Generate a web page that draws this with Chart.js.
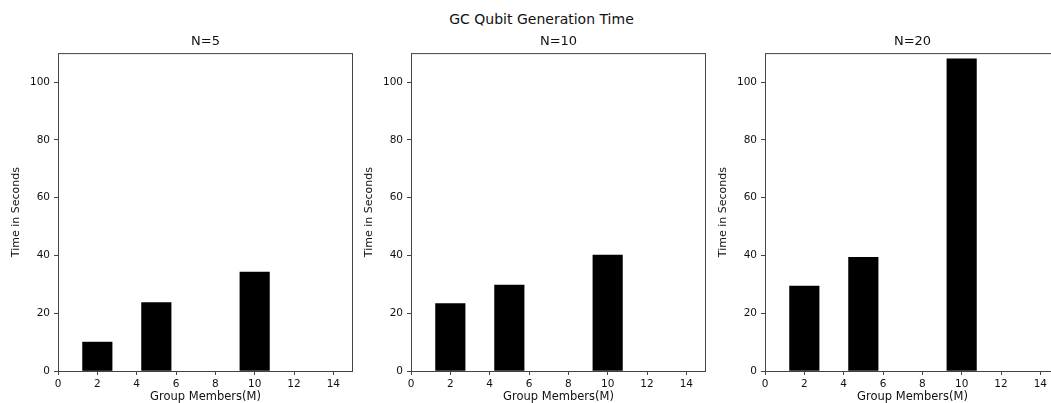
<!DOCTYPE html>
<html>
<head>
<meta charset="utf-8">
<script src="https://cdn.jsdelivr.net/npm/chart.js@4.4.1/dist/chart.umd.min.js"></script>
<style>
  html, body { margin:0; padding:0; width:1051px; height:403px; overflow:hidden; background:#fff; }
  #sup { position:absolute; left:0; top:11px; width:1083px; text-align:center;
         font-family:"DejaVu Sans"; font-size:14px; line-height:16px; color:#111; }
  .pane { position:absolute; top:0; width:359px; height:403px; }
</style>
</head>
<body>
<div id="sup">GC Qubit Generation Time</div>
<div class="pane" style="left:0px"><canvas id="c0" width="359" height="403"></canvas></div>
<div class="pane" style="left:353px"><canvas id="c1" width="359" height="403"></canvas></div>
<div class="pane" style="left:707px"><canvas id="c2" width="359" height="403"></canvas></div>
<script>
const panelTitles = ['N=5', 'N=10', 'N=20'];
const groupMembers = [2, 5, 10];
const timesN5  = [10.0, 23.7, 34.2];
const timesN10 = [23.3, 29.7, 40.1];
const timesN20 = [29.4, 39.3, 108.0];
const xTicks = [0, 2, 4, 6, 8, 10, 12, 14];
const yTicks = [0, 20, 40, 60, 80, 100];
const xLabel = 'Group Members(M)';
const yLabel = 'Time in Seconds';

const X_MIN = 0, X_MAX = 15, Y_MIN = 0, Y_MAX = 110;
const BAR_UNITS = 1.5;
const PLOT_W = 295;
const BAR_PX = PLOT_W / (X_MAX - X_MIN) * BAR_UNITS;
const TXT = '#111';
const SPINE = '#444';
const FONT = 'DejaVu Sans';

const framePlugin = {
  id: 'frame',
  afterDatasetsDraw(chart) {
    const { ctx, chartArea: a } = chart;
    ctx.save();
    ctx.strokeStyle = SPINE;
    ctx.lineWidth = 1;
    ctx.strokeRect(a.left + 0.5, a.top + 0.5, a.right - a.left - 1, a.bottom - a.top);
    ctx.restore();
  }
};

function makeChart(id, title, values) {
  new Chart(document.getElementById(id), {
    type: 'bar',
    data: {
      datasets: [{
        data: groupMembers.map((m, i) => ({ x: m, y: values[i] })),
        backgroundColor: '#000',
        borderWidth: 0,
        barThickness: BAR_PX
      }]
    },
    options: {
      responsive: false,
      animation: false,
      devicePixelRatio: 1,
      layout: { padding: { top: 34.1, right: 6, bottom: 0, left: 0 } },
      plugins: {
        legend: { display: false },
        tooltip: { enabled: false },
        title: {
          display: true, text: title, color: TXT, fullSize: false,
          font: { family: FONT, size: 13, weight: 'normal', lineHeight: 1.1 },
          padding: { top: 0, bottom: 4.7 }
        }
      },
      scales: {
        x: {
          type: 'linear', min: X_MIN, max: X_MAX, offset: false,
          afterFit(s) { s.height = 32; },
          afterBuildTicks(s) { s.ticks = xTicks.map(v => ({ value: v })); },
          ticks: { color: TXT, font: { family: FONT, size: 10.5 }, padding: 3, maxRotation: 0, autoSkip: false },
          grid: { offset: false, drawOnChartArea: false, drawTicks: true, tickLength: 4, color: SPINE },
          border: { display: false },
          title: { display: true, text: xLabel, color: TXT, font: { family: FONT, size: 11.5 }, padding: { top: 0, bottom: -1 } }
        },
        y: {
          type: 'linear', min: Y_MIN, max: Y_MAX,
          afterFit(s) { s.width = 58; },
          afterBuildTicks(s) { s.ticks = yTicks.map(v => ({ value: v })); },
          ticks: { color: TXT, font: { family: FONT, size: 10.5 }, padding: 4, autoSkip: false },
          grid: { drawOnChartArea: false, drawTicks: true, tickLength: 4, color: SPINE },
          border: { display: false },
          title: { display: true, text: yLabel, color: TXT, font: { family: FONT, size: 11 }, padding: { top: 10, bottom: 0 } }
        }
      }
    },
    plugins: [framePlugin]
  });
}

makeChart('c0', panelTitles[0], timesN5);
makeChart('c1', panelTitles[1], timesN10);
makeChart('c2', panelTitles[2], timesN20);
</script>
</body>
</html>
